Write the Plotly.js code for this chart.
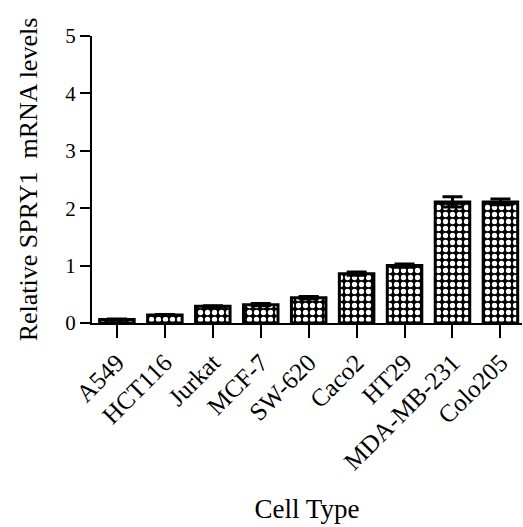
<!DOCTYPE html>
<html><head><meta charset="utf-8">
<script src="https://cdn.plot.ly/plotly-3.0.1.min.js"></script>
<style>html,body{margin:0;padding:0;background:#fff}#chart{width:523px;height:527px}</style>
</head><body><div id="chart"></div>
<script>
const categories = ["A549","HCT116","Jurkat","MCF-7","SW-620","Caco2","HT29","MDA-MB-231","Colo205"];
const values = [0.06, 0.14, 0.29, 0.32, 0.44, 0.86, 1.00, 2.11, 2.11];
const errors = [0.01, 0.01, 0.01, 0.02, 0.02, 0.03, 0.03, 0.09, 0.05];
const yTicks = [0,1,2,3,4,5];

const font = {family: "Liberation Serif, Times New Roman, serif", color: "#000"};
Plotly.newPlot("chart", [{
  type: "bar",
  x: categories,
  y: values,
  width: 0.72,
  marker: {
    color: "#000",
    line: {color: "#000", width: 3},
    pattern: {shape: ".", bgcolor: "#000", fgcolor: "#fff", size: 7, solidity: 0.45, fillmode: "replace"}
  },
  error_y: {type: "data", array: errors, symmetric: true, color: "#000", thickness: 3, width: 10}
}], {
  width: 523, height: 527,
  margin: {l: 92, r: 1, t: 36, b: 204},
  paper_bgcolor: "#fff", plot_bgcolor: "#fff",
  showlegend: false,
  font: Object.assign({size: 21}, font),
  xaxis: {
    type: "category",
    range: [-0.52, 8.45],
    tickangle: -45,
    ticks: "outside", ticklen: 13, tickwidth: 2, tickcolor: "#000",
    showline: true, linecolor: "#000", linewidth: 2,
    showgrid: false, zeroline: false,
    tickfont: Object.assign({size: 25}, font),
    title: {text: "Cell Type", font: Object.assign({size: 27}, font), standoff: 25}
  },
  yaxis: {
    range: [0, 5],
    tickvals: yTicks,
    ticks: "outside", ticklen: 10, tickwidth: 2, tickcolor: "#000",
    showline: true, linecolor: "#000", linewidth: 2,
    showgrid: false, zeroline: false,
    tickfont: Object.assign({size: 21}, font),
    title: {text: "Relative SPRY1  mRNA levels", font: Object.assign({size: 26}, font), standoff: 20}
  }
}, {displayModeBar: false, staticPlot: true});
</script></body></html>
